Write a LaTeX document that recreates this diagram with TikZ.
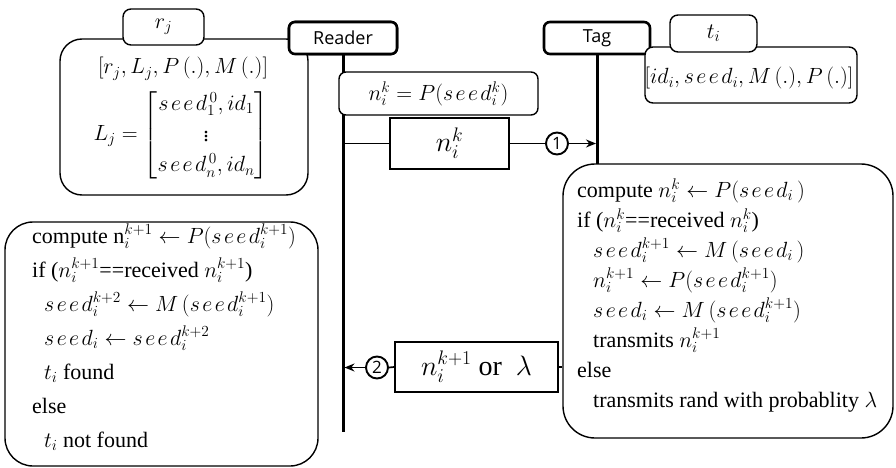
\RequirePackage{fix-cm}
\documentclass[tikz,border=0pt]{standalone}
\usepackage{amsmath}
\usepackage{fontspec}
\setmainfont{Liberation Serif}
\newfontfamily\bodyfont{Liberation Serif}
\newfontfamily\labelfont{Open Sans}
\usetikzlibrary{arrows.meta}
\newcommand\sd{s\mkern2mu e\mkern2mu e\mkern2mu d}
\begin{document}
\begin{tikzpicture}[x=1pt,y=-1pt,
  every node/.style={font=\bodyfont\fontsize{22}{26}\selectfont, inner sep=0pt},
  procbox/.style={draw, line width=1.4pt, rounded corners=#1, fill=white},
  actor/.style={draw, line width=2.6pt, rounded corners=6pt, fill=white, font=\labelfont\fontsize{18}{21}\selectfont},
  msgbox/.style={draw, line width=1.7pt, fill=white},
  stepnum/.style={draw, circle, line width=1.9pt, minimum size=22pt, font=\labelfont\fontsize{17}{20}\selectfont},
  lifeline/.style={line width=3pt},
  msg/.style={line width=1.7pt},
  txt/.style={anchor=base west},
  arr/.style={-{Stealth[length=10pt,width=8pt]}}
]
\useasboundingbox (0,0) rectangle (896,468);

% actors and lifelines
\node[actor, minimum width=108pt, minimum height=32pt] (reader) at (343,38) {Reader};
\node[actor, minimum width=106pt, minimum height=32pt] (tag) at (597,38) {Tag};
\coordinate (rend) at (343,432);
\coordinate (tend) at (597,164);
\draw[lifeline] (reader.south) -- (rend);
\draw[lifeline] (tag.south) -- (tend);

% reader storage box
\node[procbox=22pt, minimum width=248pt, minimum height=156pt] (rstore) at (184,117) {};
\node[actor, minimum width=108pt, minimum height=32pt] (reader2) at (343,38) {Reader};
\node[procbox=8pt, minimum width=81pt, minimum height=36pt] (rj) at (163.5,27) {$r_j$};
\node[anchor=base] (rparams) at (183,74) {$[r_j, L_j, P\,(.), M\,(.)]$};
\node (lmat) at (181,135) {\renewcommand\arraystretch{1.18}$L_j = \begin{bmatrix} \sd_1^{\,0}, id_1 \\ \vdots \\ \sd_n^{\,0}, id_n \end{bmatrix}$};

% tag storage box
\node[procbox=8pt, minimum width=212pt, minimum height=56pt] (tstore) at (751,75) {};
\node[procbox=8pt, minimum width=87pt, minimum height=37pt] (ti) at (713.5,33.5) {$t_i$};
\node[anchor=base] (tparams) at (749,84) {$[id_i, \sd_i, M\,(.), P\,(.)]$};

% seed box
\node[procbox=7pt, minimum width=199pt, minimum height=43pt] (pbox) at (438.5,93.5) {$n_i^k = P(\sd_i^k)$};

% message 1
\node[msgbox, minimum width=119pt, minimum height=51pt, font=\bodyfont\fontsize{28}{32}\selectfont] (m1) at (449.5,143.5) {$n_i^k$};
\node[stepnum] (c1) at (557,143.5) {1};
\coordinate (r1) at (343,143.5);
\coordinate (t1) at (596,143.5);
\draw[msg] (r1) -- (m1.west);
\draw[msg] (m1.east) -- (c1.west);
\draw[msg, arr] (c1.east) -- (t1);

% tag process box
\node[procbox=32pt, minimum width=330pt, minimum height=274pt] (tagproc) at (728,301) {};
\node[txt] (ta1) at (577,197) {compute $n_i^k \leftarrow P(\sd_i\,)$};
\node[txt] (ta2) at (577,227) {if ($n_i^k$==received $n_i^k$)};
\node[txt] (ta3) at (593,257) {$\sd_i^{k+1} \leftarrow M\,(\sd_i\,)$};
\node[txt] (ta4) at (593,287) {$n_i^{k+1} \leftarrow P(\sd_i^{k+1})$};
\node[txt] (ta5) at (593,317) {$\sd_i \leftarrow M\,(\sd_i^{k+1})$};
\node[txt] (ta6) at (593,347) {transmits $n_i^{k+1}$};
\node[txt] (ta7) at (577,377) {else};
\node[txt] (ta8) at (593,407) {transmits rand with probablity $\lambda$};

% message 2
\node[msgbox, minimum width=163pt, minimum height=50pt, font=\bodyfont\fontsize{28}{32}\selectfont] (m2) at (476.5,367) {$n_i^{k+1}$ or \ $\lambda$};
\node[stepnum] (c2) at (377,367.5) {2};
\coordinate (rl) at (344.5,367.5);
\draw[msg] (m2.east) -- (m2.east -| tagproc.west);
\draw[msg] (m2.west) -- (c2.east);
\draw[msg, arr] (c2.west) -- (rl);

% reader process box
\node[procbox=28pt, minimum width=313pt, minimum height=244pt] (readproc) at (161.5,344) {};
\node[txt] (ra1) at (32,243) {compute n$_i^{k+1} \leftarrow P(\sd_i^{k+1})$};
\node[txt] (ra2) at (32,277) {if ($n_i^{k+1}$==received $n_i^{k+1}$)};
\node[txt] (ra3) at (44,311) {$\sd_i^{k+2} \leftarrow M\,(\sd_i^{k+1})$};
\node[txt] (ra4) at (44,345) {$\sd_i \leftarrow \sd_i^{k+2}$};
\node[txt] (ra5) at (44,379) {$t_i$ found};
\node[txt] (ra6) at (32,413) {else};
\node[txt] (ra7) at (44,447) {$t_i$ not found};
\end{tikzpicture}
\end{document}
